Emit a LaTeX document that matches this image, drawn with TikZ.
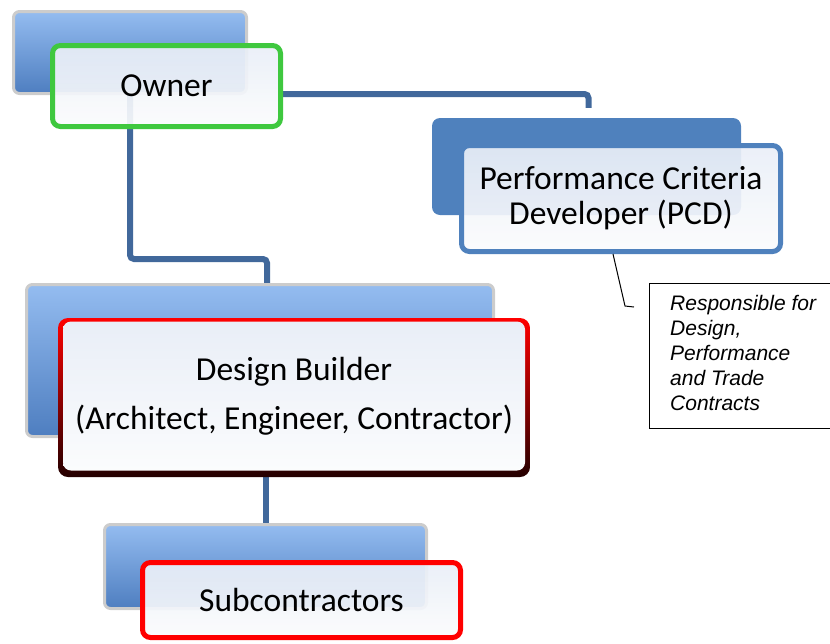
\documentclass[tikz,border=0pt]{standalone}
\usepackage{fontspec}
\setmainfont{Carlito}
\newfontfamily\notefont{Liberation Sans}
\usetikzlibrary{backgrounds}

\definecolor{backtop}{HTML}{94BCF0}
\definecolor{backmid}{HTML}{5C8DD1}
\definecolor{backbot}{HTML}{4E7EC0}
\definecolor{pcdblue}{HTML}{4F81BD}
\definecolor{linkblue}{HTML}{41689B}
\definecolor{ownergreen}{HTML}{3FC83F}
\definecolor{darkred}{HTML}{240000}
\definecolor{paneltop}{HTML}{E9EEF7}
\definecolor{panelbot}{HTML}{FBFCFD}

\tikzset{
	backbox/.style={rectangle,rounded corners=6pt,draw=gray!40,line width=3pt,top color=backtop,middle color=backmid,bottom color=backbot},
	panel/.style={rectangle,rounded corners=8pt,line width=5pt,top color=paneltop,bottom color=panelbot,fill opacity=0.92,text opacity=1,align=center,font=\fontsize{33.5}{35}\selectfont},
	link/.style={draw=linkblue,line width=6pt,rounded corners=4pt},
	note/.style={draw=black,line width=1pt,rectangle,inner sep=0pt}
}

\begin{document}
\begin{tikzpicture}[x=1pt,y=-1pt]
		\useasboundingbox (0,0) rectangle (830,643);
		
		% owner
		\node[backbox,minimum width=233pt,minimum height=82pt] (ownerback) at (130,52.5){};
		\node[panel,draw=ownergreen,minimum width=228pt,minimum height=81pt] (owner) at (166.5,86){Owner};
		
		% performance criteria developer
		\node[rectangle,rounded corners=8pt,fill=pcdblue,minimum width=309pt,minimum height=97pt] (pcdback) at (586.5,166.5){};
		\node[panel,draw=pcdblue,minimum width=319pt,minimum height=106pt] (pcd) at (621,198.5){Performance Criteria\\Developer (PCD)};
		
		% design builder
		\node[backbox,minimum width=467pt,minimum height=152pt] (dbback) at (260,360.5){};
		\node[rectangle,rounded corners=10pt,top color=red,bottom color=darkred,minimum width=472pt,minimum height=159pt] (dbframe) at (294,397.5){};
		\node[panel,line width=0pt,fill opacity=1,minimum width=462pt,minimum height=149pt] (designbuilder) at (294,396){Design Builder\\[14pt](Architect, Engineer, Contractor)};
		
		% subcontractors
		\node[backbox,minimum width=322pt,minimum height=84pt] (subback) at (265.5,566.5){};
		\node[panel,draw=red,minimum width=318pt,minimum height=75pt] (sub) at (301.5,600){Subcontractors};
		
		% note
		\node[note,minimum width=183pt,minimum height=145pt,anchor=north west] (note) at (649,283){};
		\node[anchor=north west,align=left,inner sep=0pt,font=\notefont\itshape\fontsize{21}{25}\selectfont] (notetext) at (670,295){Responsible for\\Design,\\Performance\\and Trade\\Contracts};
		\draw[line width=1pt] ([xshift=-8pt]pcd.south) -- ++(12,52) -- ([shift={(-15,24)}]note.north west);
		
		\begin{scope}[on background layer]
			\draw[link,shorten >=10pt] ([yshift=-8pt]owner.east) -| ([xshift=2pt]pcdback.north);
			\draw[link] (ownerback.south) |- ([xshift=7pt,yshift=24pt]dbback.north) -- ([xshift=7pt]dbback.north);
			\draw[link] (subback.north |- dbback.south) -- (subback.north);
		\end{scope}
	\end{tikzpicture}
\end{document}
